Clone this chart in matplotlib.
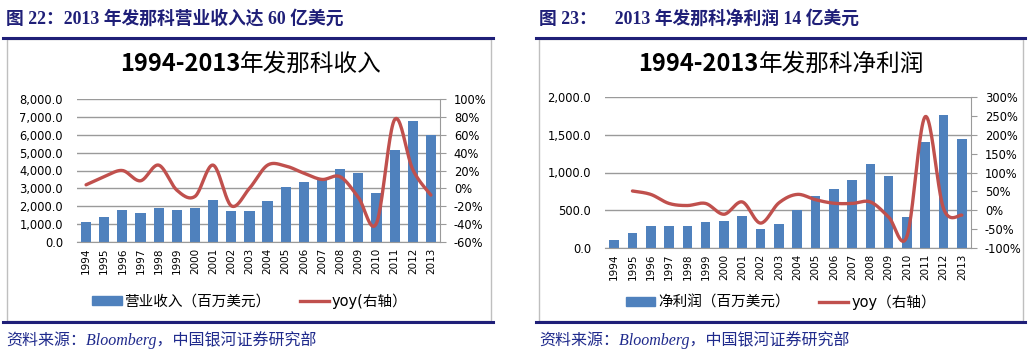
import numpy as np
import matplotlib
matplotlib.use("Agg")
import matplotlib.pyplot as plt
from matplotlib.lines import Line2D
from matplotlib.patches import Patch, Rectangle
from matplotlib.ticker import FuncFormatter, MultipleLocator

plt.rcParams['font.family'] = ['DejaVu Sans', 'Noto Sans CJK SC']

years = [1994, 1995, 1996, 1997, 1998, 1999, 2000, 2001, 2002, 2003,
         2004, 2005, 2006, 2007, 2008, 2009, 2010, 2011, 2012, 2013]

# 营业收入（百万美元）and yoy (%)
revenue = [1110, 1390, 1780, 1610, 1880, 1770, 1880, 2340, 1720, 1720,
           2290, 3070, 3350, 3500, 4070, 3880, 2740, 5150, 6780, 5960]
revenue_yoy = [4, 13, 20, 8.5, 26, -2, -9, 26, -19.5, 0,
               26, 25, 17, 10, 13, -10, -39, 77, 21, -7.5]

# 净利润（百万美元）and yoy (%)
profit = [106, 200, 285, 285, 293, 338, 351, 426, 253, 324,
          501, 687, 785, 904, 1109, 949, 404, 1406, 1755, 1445]
profit_yoy = [np.nan, 51, 42, 18, 12.5, 18, -10.6, 22, -34, 19.5,
              42, 28, 18.6, 18, 22, -18, -69, 248, 4.5, -13]

BLUE = "#4F81BD"
RED = "#C0504D"
NAVY = "#1F1F78"
GRID = "#9A9A9A"

W, H = 1033, 354
fig = plt.figure(figsize=(W / 100, H / 100), dpi=100)
renderer = fig.canvas.get_renderer()


def rect(x0, y0, x1, y1):
    return [x0 / W, 1 - y1 / H, (x1 - x0) / W, (y1 - y0) / H]


def smooth(x, y, n=24):
    # Excel-style smoothed line (Catmull-Rom through the points)
    pts = np.column_stack([x, y]).astype(float)
    P = np.vstack([pts[0], pts, pts[-1]])
    out = []
    for i in range(len(pts) - 1):
        p0, p1, p2, p3 = P[i], P[i + 1], P[i + 2], P[i + 3]
        t = np.linspace(0, 1, n)[:, None]
        c = 0.5 * ((2 * p1) + (-p0 + p2) * t + (2 * p0 - 5 * p1 + 4 * p2 - p3) * t ** 2
                   + (-p0 + 3 * p1 - 3 * p2 + p3) * t ** 3)
        out.append(c if i == 0 else c[1:])
    c = np.vstack(out)
    return c[:, 0], c[:, 1]


def hline(x0, x1, y):
    fig.add_artist(Line2D([x0 / W, x1 / W], [1 - y / H, 1 - y / H], color=NAVY, lw=2.2))


def split_title(cx, y, bold_part, plain_part):
    # bold digits + regular CJK, centred together
    t1 = fig.text(0, 1 - y / H, bold_part, fontsize=17, fontweight='bold',
                  family=['Noto Sans CJK SC'], va='center')
    t2 = fig.text(0, 1 - y / H, plain_part, fontsize=17,
                  family=['Noto Sans CJK SC'], va='center')
    w1 = t1.get_window_extent(renderer).width
    w2 = t2.get_window_extent(renderer).width
    x0 = cx - (w1 + w2) / 2
    t1.set_x(x0 / W)
    t2.set_x((x0 + w1) / W)


def panel(x_off, box, plot, caption, title, bars, yoy, bar_label, line_label,
          lmax, lstep, rmin, rmax, rstep, bw, title_x, legend_x, legend_y):
    bx0, bx1 = box
    # chart frame
    fig.add_artist(Rectangle((bx0 / W, 1 - 321 / H), (bx1 - bx0) / W, (321 - 39) / H,
                             transform=fig.transFigure, fill=False, ec="#BFBFBF", lw=1))
    hline(x_off, bx1 + 2, 38)
    hline(x_off, bx1 + 2, 322)
    fig.text((x_off + 3) / W, 1 - 19 / H, caption, fontsize=12.8, fontweight='bold',
             color=NAVY, family=['Liberation Serif', 'Noto Sans CJK SC'], va='center')
    fig.text((x_off + 3) / W, 1 - 340 / H, "资料来源：Bloomberg，中国银河证券研究部",
             fontsize=11.5, style='italic', color="#1F2A8C",
             family=['Liberation Serif', 'Noto Sans CJK SC'], va='center')
    split_title(title_x, 64, title[0], title[1])

    ax = fig.add_axes(rect(*plot))
    x = np.arange(len(years))
    ax.bar(x, bars, width=bw, color=BLUE, zorder=2)
    ax.set_xlim(-0.5, len(years) - 0.5)
    ax.set_ylim(0, lmax)
    ax.yaxis.set_major_locator(MultipleLocator(lstep))
    ax.yaxis.set_major_formatter(FuncFormatter(lambda v, p: "{:,.1f}".format(v)))
    ax.grid(axis='y', color=GRID, lw=1, zorder=0)
    ax.set_xticks(x)
    ax.set_xticklabels([str(y) for y in years], rotation=90, fontsize=7.5)
    ax.tick_params(axis='x', length=0, pad=4)
    ax.tick_params(axis='y', length=0, labelsize=8.3, pad=10)
    for s in ['top', 'left', 'right']:
        ax.spines[s].set_visible(False)
    ax.spines['bottom'].set_color(GRID)

    ax2 = ax.twinx()
    yy = np.array(yoy, dtype=float)
    ok = ~np.isnan(yy)
    sx, sy = smooth(x[ok], yy[ok])
    ax2.plot(sx, sy, color=RED, lw=2.4, zorder=3, solid_capstyle='round')
    ax2.set_ylim(rmin, rmax)
    ax2.yaxis.set_major_locator(MultipleLocator(rstep))
    ax2.yaxis.set_major_formatter(FuncFormatter(lambda v, p: "{:.0f}%".format(v)))
    ax2.tick_params(axis='y', length=4, color=GRID, labelsize=8.3, pad=6)
    for s in ['top', 'left', 'bottom']:
        ax2.spines[s].set_visible(False)
    ax2.spines['right'].set_color(GRID)

    handles = [Patch(color=BLUE), Line2D([], [], color=RED, lw=2.4)]
    fig.legend(handles, [bar_label, line_label], loc='center',
               bbox_to_anchor=(legend_x / W, 1 - legend_y / H), ncol=2, frameon=False,
               fontsize=10.5, handlelength=2.0, handleheight=0.55, handletextpad=0.2,
               columnspacing=2.0)


panel(3, (7, 491), (77, 99, 440, 242), "图 22：2013 年发那科营业收入达 60 亿美元",
      ("1994-2013", "年发那科收入"), revenue, revenue_yoy, "营业收入（百万美元）", "yoy(右轴）",
      8000, 1000, -60, 100, 20, 0.56, 251, 250, 301)

panel(536, (539, 1023), (605, 97, 971, 248), "图 23：    2013 年发那科净利润 14 亿美元",
      ("1994-2013", "年发那科净利润"), profit, profit_yoy, "净利润（百万美元）", "yoy（右轴）",
      2000, 500, -100, 300, 50, 0.52, 781, 781, 302)

fig.savefig("out.png", dpi=100)
